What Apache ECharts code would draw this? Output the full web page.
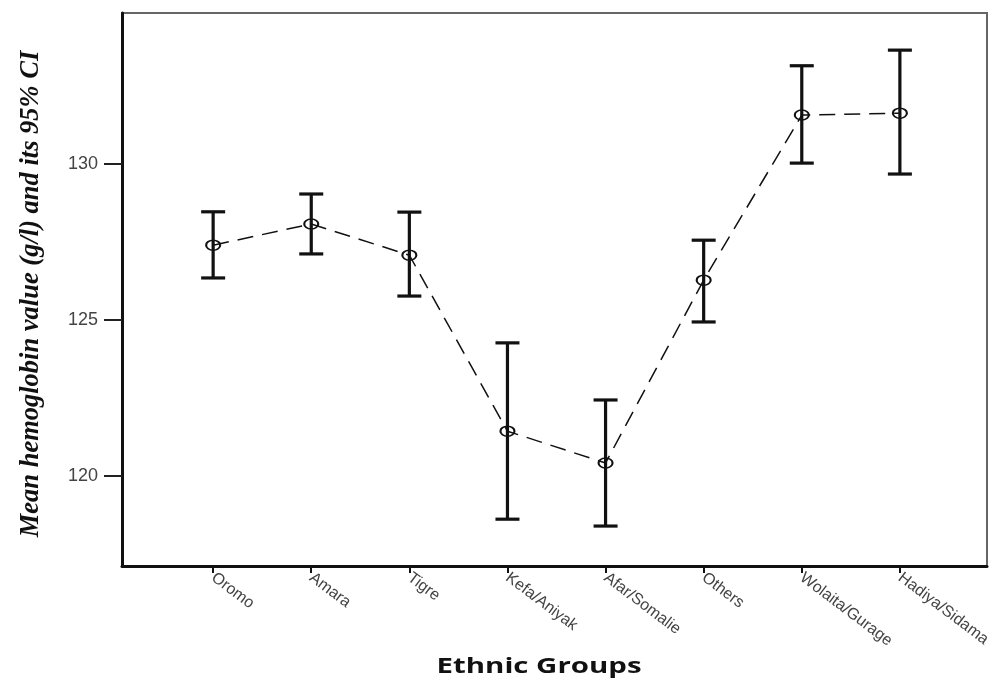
<!DOCTYPE html>
<html><head><meta charset="utf-8">
<script src="https://cdn.jsdelivr.net/npm/echarts@6/dist/echarts.min.js"></script>
<style>html,body{margin:0;padding:0;background:#fff}#c{width:993px;height:679px}</style>
</head><body><div id="c"></div>
<script>
const categories = ['Oromo','Amara','Tigre','Kefa/Aniyak','Afar/Somalie','Others','Wolaita/Gurage','Hadiya/Sidama'];
const meanHb  = [127.40, 128.08, 127.08, 121.44, 120.42, 126.28, 131.57, 131.63];
const ciLower = [126.35, 127.12, 125.77, 118.62, 118.40, 124.94, 130.03, 129.68];
const ciUpper = [128.47, 129.04, 128.46, 124.27, 122.44, 127.56, 133.15, 133.65];
const yTicks = [120, 125, 130];
const xTitle = 'Ethnic Groups';
const yTitle = 'Mean hemoglobin value (g/l) and its 95% CI';

const idx = categories.map((_, i) => i);

function errorBar(params, api) {
  const x = api.value(0);
  const lo = api.coord([x, api.value(1)]);
  const hi = api.coord([x, api.value(2)]);
  const hw = 12;
  const style = { stroke: '#111', lineWidth: 3.2, fill: null };
  return {
    type: 'group',
    children: [
      { type: 'line', shape: { x1: hi[0], y1: hi[1], x2: lo[0], y2: lo[1] }, style: style },
      { type: 'line', shape: { x1: hi[0] - hw, y1: hi[1], x2: hi[0] + hw, y2: hi[1] }, style: style },
      { type: 'line', shape: { x1: lo[0] - hw, y1: lo[1], x2: lo[0] + hw, y2: lo[1] }, style: style }
    ]
  };
}

const chart = echarts.init(document.getElementById('c'), null, { renderer: 'canvas' });
chart.setOption({
  animation: false,
  backgroundColor: '#fff',
  grid: {
    left: 122, right: 6, top: 13, bottom: 113,
    show: true, borderColor: '#666', borderWidth: 2, backgroundColor: 'transparent',
    containLabel: false, outerBoundsMode: 'none'
  },
  xAxis: {
    type: 'value', min: -0.929, max: 7.888,
    splitLine: { show: false },
    axisLine: { show: true, onZero: false, lineStyle: { color: '#111', width: 3 } },
    axisTick: { show: true, customValues: idx, length: 7, lineStyle: { color: '#111', width: 2 } },
    axisLabel: {
      customValues: idx,
      formatter: function (v) { return categories[Math.round(v)]; },
      rotate: -37, margin: 10,
      fontFamily: 'Liberation Sans', fontSize: 16, color: '#444'
    }
  },
  yAxis: {
    type: 'value', min: 117.12, max: 134.84,
    splitLine: { show: false },
    axisLine: { show: true, onZero: false, lineStyle: { color: '#111', width: 3 } },
    axisTick: { show: true, customValues: yTicks, length: 18, lineStyle: { color: '#222', width: 2 } },
    axisLabel: {
      customValues: yTicks, margin: 24,
      fontFamily: 'Liberation Sans', fontSize: 18, color: '#444'
    }
  },
  graphic: [
    {
      type: 'text', x: 31, y: 294, rotation: Math.PI / 2,
      style: {
        text: yTitle, fontFamily: 'Liberation Serif', fontStyle: 'italic', fontWeight: 'bold',
        fontSize: 26.5, fill: '#111', align: 'center', verticalAlign: 'middle'
      }
    },
    {
      type: 'text', x: 539, y: 667, scaleX: 1.4,
      style: {
        text: xTitle, fontFamily: 'Open Sans', fontWeight: 'bold',
        fontSize: 21, fill: '#111', align: 'center', verticalAlign: 'middle'
      }
    }
  ],
  series: [
    {
      type: 'custom', renderItem: errorBar,
      encode: { x: 0, y: [1, 2] },
      data: idx.map(function (i) { return [i, ciLower[i], ciUpper[i]]; }),
      z: 2, silent: true
    },
    {
      type: 'line',
      data: idx.map(function (i) { return [i, meanHb[i]]; }),
      symbol: 'circle', symbolSize: [14, 10], showSymbol: true,
      itemStyle: { color: 'rgba(0,0,0,0)', borderColor: '#111', borderWidth: 1.8 },
      lineStyle: { color: '#111', width: 1.5, type: [16, 9] },
      emphasis: { disabled: true },
      z: 3, silent: true
    }
  ]
});
</script>
</body></html>
